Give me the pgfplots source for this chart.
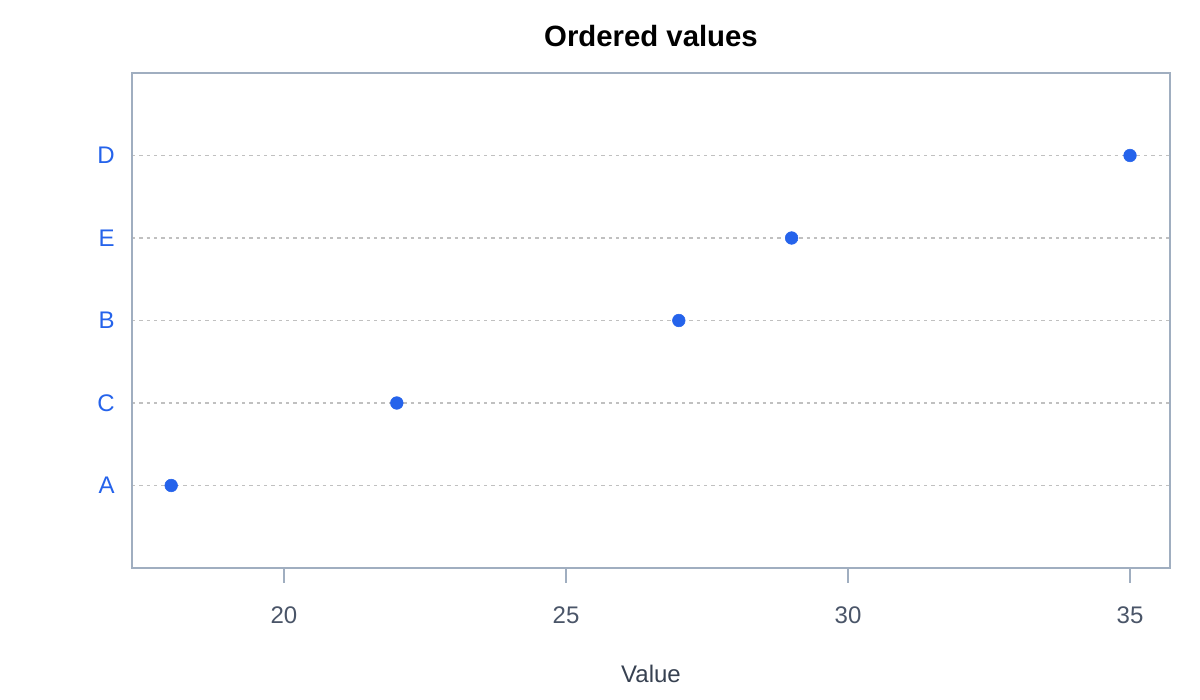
\documentclass[border=0pt]{standalone}
\usepackage{fontspec}
\setmainfont{Liberation Sans}
\usepackage{pgfplots}
\pgfplotsset{compat=1.18}
\definecolor{dotblue}{HTML}{2563EB}
\definecolor{axisgrey}{HTML}{A0AEC0}
\definecolor{ticktext}{HTML}{4A5568}
\definecolor{labeltext}{HTML}{374151}
\definecolor{gridgrey}{HTML}{C0C0C0}
\begin{document}
\begin{tikzpicture}
\path[use as bounding box] (0,0) rectangle (900pt,525pt);
\begin{axis}[
  at={(99pt,99pt)}, anchor=south west,
  scale only axis,
  width=778.5pt, height=371.25pt,
  xmin=17.305, xmax=35.709,
  ymin=-1, ymax=5,
  xtick={20,25,30,35},
  ytick={0,1,2,3,4},
  yticklabels={A,C,B,E,D},
  xtick pos=bottom, ytick pos=left,
  axis line style={draw=axisgrey, line width=1.1pt},
  tick align=outside,
  major tick length=11.25pt,
  xtick style={draw=axisgrey, line width=1pt},
  ytick style={draw=none},
  xticklabel style={font=\fontsize{18}{18}\selectfont, text=ticktext, inner sep=0pt, anchor=base, yshift=-30pt},
  yticklabel style={font=\fontsize{18}{18}\selectfont, text=dotblue, inner sep=0pt, anchor=east, xshift=-1.5pt},
  /pgf/number format/assume math mode=true,
  ymajorgrids,
  major grid style={draw=gridgrey, line width=1.1pt, dash pattern=on 2.5pt off 3pt},
  xlabel={Value},
  xlabel style={font=\fontsize{18}{18}\selectfont, text=labeltext, at={(axis description cs:0.5,0)}, anchor=base, yshift=-85.5pt, inner sep=0pt},
  title={Ordered values},
  title style={font=\fontsize{22}{22}\selectfont\bfseries, text=black, at={(axis description cs:0.5,1)}, anchor=base, yshift=13.5pt, inner sep=0pt},
  clip=false,
]
\addplot[only marks, mark=*, mark size=4.75pt, color=dotblue, mark options={fill=dotblue, draw=dotblue}]
  coordinates {(18,0) (22,1) (27,2) (29,3) (35,4)};
\end{axis}
\end{tikzpicture}
\end{document}
